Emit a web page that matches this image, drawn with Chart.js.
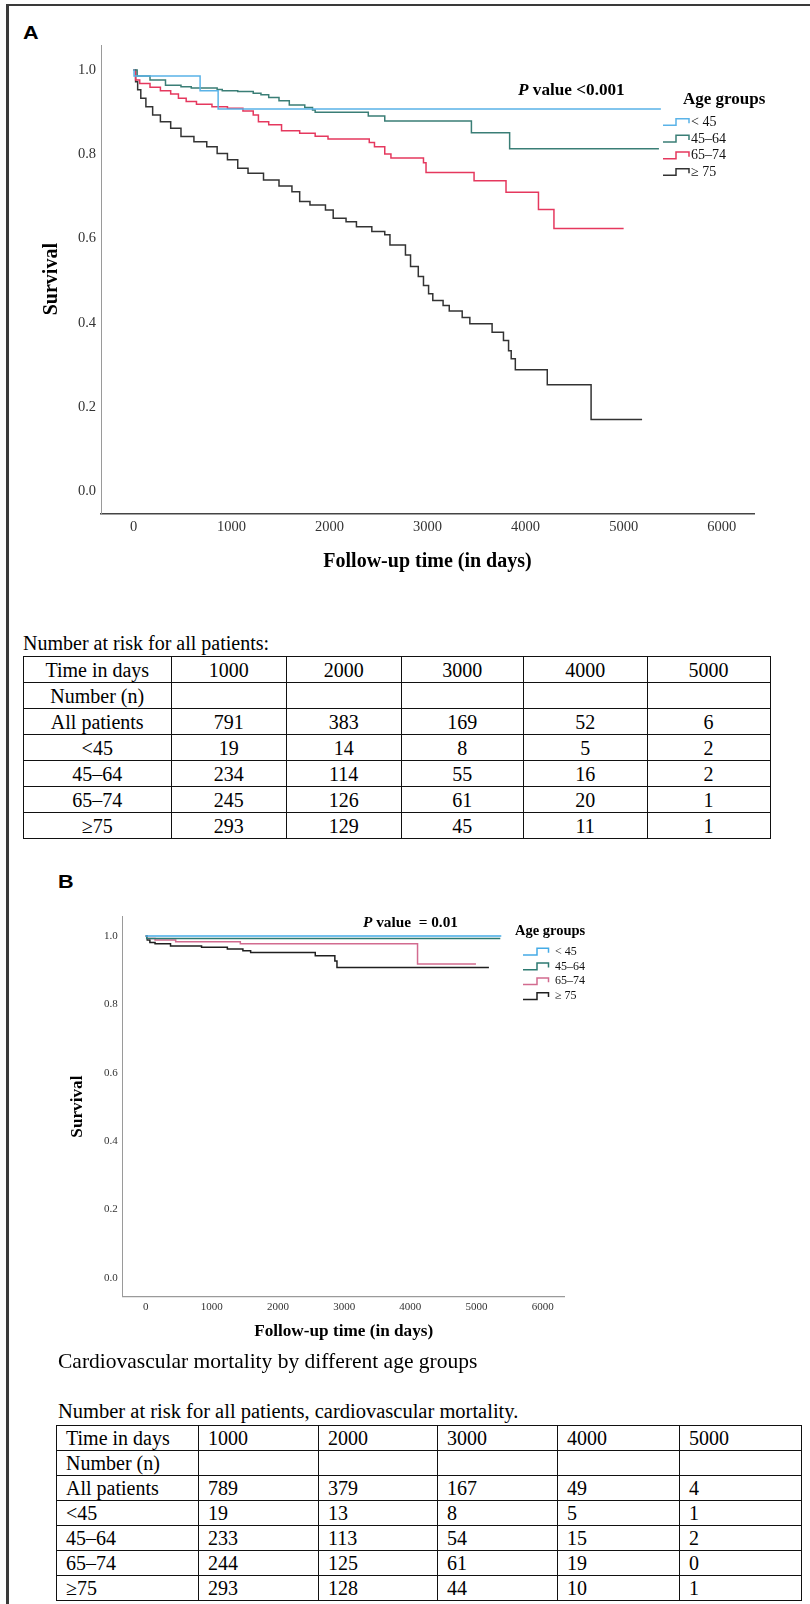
<!DOCTYPE html>
<html><head><meta charset="utf-8">
<script src="https://cdn.jsdelivr.net/npm/chart.js@4.4.0/dist/chart.umd.min.js"></script>
<style>
html,body{margin:0;padding:0;background:#fff;}
body{width:810px;height:1604px;position:relative;overflow:hidden;font-family:"Liberation Serif","Times New Roman",serif;color:#000;}
.frame{position:absolute;left:6px;top:4px;width:820px;height:1620px;border-left:3px solid #3a3a3a;border-top:2px solid #3a3a3a;}
.wrap{position:absolute;left:0;width:810px;}
.panel{position:absolute;font-family:"Liberation Sans",Arial,sans-serif;font-weight:bold;font-size:18px;line-height:18px;}
.panel span{display:inline-block;transform:scaleX(1.2);transform-origin:left center;}
.cap{position:absolute;white-space:nowrap;font-family:"Liberation Serif","Times New Roman",serif;}
table{position:absolute;border-collapse:collapse;table-layout:fixed;font-family:"Liberation Serif","Times New Roman",serif;}
td{border:1px solid #111;padding:0;vertical-align:top;white-space:nowrap;overflow:visible;}
#tA td{text-align:center;font-size:20px;}
#tA td span{display:inline-block;line-height:20px;margin-top:3px;}
#tB td{text-align:left;font-size:20px;padding-left:9px;}
#tB td span{display:inline-block;line-height:20px;margin-top:2px;}
tr{height:24px;}
</style>
</head>
<body>
<div class="frame"></div>
<div class="panel" style="left:23px;top:24px;"><span>A</span></div>
<div class="wrap" style="top:0;height:600px;"><canvas id="cA"></canvas></div>
<div class="cap" style="left:23px;top:633px;font-size:20px;line-height:20px;">Number at risk for all patients:</div>
<table id="tA" style="left:23px;top:656px;"></table>
<div class="panel" style="left:58px;top:873px;"><span>B</span></div>
<div class="wrap" style="top:850px;height:500px;"><canvas id="cB"></canvas></div>
<div class="cap" style="left:58px;top:1351px;font-size:21.5px;line-height:21.5px;">Cardiovascular mortality by different age groups</div>
<div class="cap" style="left:58px;top:1401px;font-size:20.5px;line-height:20.5px;">Number at risk for all patients, cardiovascular mortality.</div>
<table id="tB" style="left:56px;top:1425px;"></table>
<script>
// ---------- data ----------
const xTicks = [0, 1000, 2000, 3000, 4000, 5000, 6000];
const xTickLabels = ['0', '1000', '2000', '3000', '4000', '5000', '6000'];
const yTicks = [0, 0.2, 0.4, 0.6, 0.8, 1.0];
const yTickLabels = ['0.0', '0.2', '0.4', '0.6', '0.8', '1.0'];
const groupLabels = ['< 45', '45–64', '65–74', '≥ 75'];

// Panel A: all-cause survival (days, survival)
const lt45A_t = [0, 5, 679, 863, 5380];
const lt45A_s = [1, 0.986, 0.951, 0.9075, 0.9075];
const g4564A_t = [0, 37, 168, 326, 484, 589, 853, 905, 1063, 1221, 1300, 1379, 1484, 1589, 1747, 1826, 1853, 2395, 2563, 3447, 3837, 5360];
const g4564A_s = [1, 0.986, 0.976, 0.964, 0.960, 0.957, 0.954, 0.951, 0.949, 0.945, 0.941, 0.935, 0.927, 0.917, 0.911, 0.905, 0.900, 0.891, 0.879, 0.851, 0.813, 0.813];
const g6574A_t = [0, 21, 63, 168, 274, 379, 458, 537, 642, 800, 958, 1116, 1221, 1274, 1379, 1510, 1695, 1853, 1984, 2405, 2458, 2563, 2626, 2958, 2984, 3474, 3800, 4131, 4289, 5000];
const g6574A_s = [1, 0.976, 0.968, 0.959, 0.951, 0.943, 0.933, 0.925, 0.919, 0.913, 0.909, 0.903, 0.893, 0.877, 0.870, 0.856, 0.850, 0.843, 0.836, 0.828, 0.818, 0.801, 0.791, 0.780, 0.757, 0.737, 0.710, 0.669, 0.624, 0.624];
const ge75A_t = [0, 21, 42, 74, 126, 195, 274, 379, 484, 616, 747, 853, 958, 1063, 1168, 1326, 1484, 1616, 1695, 1800, 1958, 2037, 2168, 2274, 2431, 2563, 2616, 2774, 2826, 2905, 2958, 3010, 3053, 3158, 3221, 3353, 3431, 3658, 3774, 3826, 3853, 3895, 4221, 4668, 5188];
const ge75A_s = [1, 0.972, 0.953, 0.933, 0.913, 0.893, 0.877, 0.862, 0.842, 0.830, 0.818, 0.802, 0.787, 0.767, 0.755, 0.739, 0.725, 0.711, 0.688, 0.680, 0.668, 0.648, 0.640, 0.628, 0.617, 0.609, 0.585, 0.561, 0.534, 0.510, 0.489, 0.469, 0.453, 0.441, 0.428, 0.413, 0.398, 0.378, 0.358, 0.334, 0.315, 0.289, 0.253, 0.171, 0.171];

// Panel B: cardiovascular mortality
const lt45B_t = [0, 5375];
const lt45B_s = [1, 1];
const g4564B_t = [0, 15, 5360];
const g4564B_s = [1, 0.993, 0.993];
const g6574B_t = [0, 23, 141, 453, 1430, 4109, 4992];
const g6574B_s = [1, 0.993, 0.988, 0.983, 0.977, 0.918, 0.918];
const ge75B_t = [0, 23, 63, 141, 375, 844, 1234, 1469, 1586, 2563, 2859, 2891, 5188];
const ge75B_s = [1, 0.988, 0.981, 0.977, 0.971, 0.967, 0.962, 0.957, 0.952, 0.942, 0.927, 0.908, 0.908];

// Number-at-risk tables
const riskTimes = [1000, 2000, 3000, 4000, 5000];
const riskRowLabels = ['All patients', '<45', '45–64', '65–74', '≥75'];
const riskA_all = [791, 383, 169, 52, 6];
const riskA_lt45 = [19, 14, 8, 5, 2];
const riskA_4564 = [234, 114, 55, 16, 2];
const riskA_6574 = [245, 126, 61, 20, 1];
const riskA_ge75 = [293, 129, 45, 11, 1];
const riskB_all = [789, 379, 167, 49, 4];
const riskB_lt45 = [19, 13, 8, 5, 1];
const riskB_4564 = [233, 113, 54, 15, 2];
const riskB_6574 = [244, 125, 61, 19, 0];
const riskB_ge75 = [293, 128, 44, 10, 1];

// ---------- styles ----------
const colorsA = ['#5ab3e8', '#3a7e76', '#e5385e', '#333333'];
const colorsB = ['#45abe6', '#2d7a71', '#d26b8f', '#1f1f1f'];
const SERIF = '"Liberation Serif", "Times New Roman", serif';

function pts(t, s) { return t.map((x, i) => ({ x: x, y: s[i] })); }

const kmDecor = {
  id: 'kmDecor',
  afterDraw(chart, args, o) {
    const ctx = chart.ctx;
    ctx.save();
    ctx.fillStyle = '#000';
    ctx.textBaseline = 'middle';
    ctx.textAlign = 'left';
    ctx.font = 'italic bold ' + o.pSize + 'px ' + SERIF;
    ctx.fillText('P', o.pX, o.pY);
    const w = ctx.measureText('P').width;
    ctx.font = 'bold ' + o.pSize + 'px ' + SERIF;
    ctx.fillText(o.pText, o.pX + w, o.pY);
    ctx.font = 'bold ' + o.tSize + 'px ' + SERIF;
    ctx.fillText('Age groups', o.tX, o.tY);
    chart.data.datasets.forEach((ds, i) => {
      const c = o.y0 + i * o.step;
      ctx.strokeStyle = ds.borderColor;
      ctx.lineWidth = 1.5;
      ctx.beginPath();
      ctx.moveTo(o.ix0, c + o.low);
      ctx.lineTo(o.ixm, c + o.low);
      ctx.lineTo(o.ixm, c + o.high);
      ctx.lineTo(o.ix1, c + o.high);
      ctx.lineTo(o.ix1, c + o.end);
      ctx.stroke();
      ctx.fillStyle = '#111';
      ctx.font = o.lSize + 'px ' + SERIF;
      ctx.fillText(ds.label, o.lx, c);
    });
    ctx.restore();
  }
};

function makeChart(id, series, colors, g) {
  const datasets = series.map((s, i) => ({
    label: groupLabels[i],
    data: pts(s[0], s[1]),
    borderColor: colors[i],
    backgroundColor: colors[i],
    borderWidth: 1.5,
    pointRadius: 0,
    stepped: true,
    fill: false,
    tension: 0
  }));
  return new Chart(document.getElementById(id), {
    type: 'line',
    data: { datasets: datasets },
    plugins: [kmDecor],
    options: {
      responsive: true,
      maintainAspectRatio: false,
      animation: false,
      events: [],
      layout: { padding: g.padding },
      plugins: { legend: { display: false }, tooltip: { enabled: false }, kmDecor: g.decor },
      scales: {
        x: {
          type: 'linear', min: g.xmin, max: g.xmax,
          afterBuildTicks: s => { s.ticks = xTicks.map(v => ({ value: v })); },
          afterFit: s => { s.height = g.xH; },
          grid: { display: false, drawTicks: false },
          border: { display: true, color: g.xBorder, width: g.xBW },
          ticks: { autoSkip: false, maxRotation: 0, padding: g.xPad, color: '#333', font: { family: SERIF, size: g.tick }, callback: (v, i) => xTickLabels[i] },
          title: { display: true, text: 'Follow-up time (in days)', color: '#000', padding: 0, font: { family: SERIF, size: g.title, weight: 'bold' } }
        },
        y: {
          type: 'linear', min: g.ymin, max: g.ymax,
          afterBuildTicks: s => { s.ticks = yTicks.map(v => ({ value: v })); },
          afterFit: s => { s.width = g.yW; },
          grid: { display: false, drawTicks: false },
          border: { display: true, color: g.yBorder, width: 1 },
          ticks: { autoSkip: false, padding: 5, color: '#333', font: { family: SERIF, size: g.tick }, callback: (v, i) => yTickLabels[i] },
          title: { display: true, text: 'Survival', color: '#000', padding: 0, font: { family: SERIF, size: g.ytitle, weight: 'bold' } }
        }
      }
    }
  });
}

makeChart('cA', [[lt45A_t, lt45A_s], [g4564A_t, g4564A_s], [g6574A_t, g6574A_s], [ge75A_t, ge75A_s]], colorsA, {
  padding: { left: 39.7, top: 45, right: 56, bottom: 26.3 },
  xmin: -332, xmax: 6330, ymin: -0.0517, ymax: 1.0593,
  xH: 60.4, yW: 61.3, xPad: 5.3, tick: 14.5, title: 20, ytitle: 20,
  xBorder: '#444', xBW: 1.5, yBorder: '#9a9a9a',
  decor: { pSize: 17.2, pText: ' value <0.001', pX: 518, pY: 91,
    tSize: 17, tX: 683, tY: 99.3,
    y0: 122.3, step: 16.67, ix0: 663, ixm: 676, ix1: 689, low: 3, high: -3.6, end: 1, lSize: 14, lx: 691 }
});

makeChart('cB', [[lt45B_t, lt45B_s], [g4564B_t, g4564B_s], [g6574B_t, g6574B_s], [ge75B_t, ge75B_s]], colorsB, {
  padding: { left: 67.3, top: 66.7, right: 245.4, bottom: 8 },
  xmin: -348, xmax: 6332, ymin: -0.055, ymax: 1.0565,
  xH: 45.5, yW: 55.4, xPad: 3.6, tick: 11, title: 17.2, ytitle: 17.2,
  xBorder: '#9a9a9a', xBW: 1.2, yBorder: '#9a9a9a',
  decor: { pSize: 15.3, pText: ' value  = 0.01', pX: 363, pY: 73.3,
    tSize: 14.5, tX: 515, tY: 81.7,
    y0: 101.7, step: 14.8, ix0: 523, ixm: 537, ix1: 548.5, low: 3.3, high: -3.4, end: 1, lSize: 12, lx: 555 }
});

// ---------- tables ----------
function buildTable(id, widths, rows) {
  const t = document.getElementById(id);
  const cg = document.createElement('colgroup');
  widths.forEach(w => { const c = document.createElement('col'); c.style.width = w + 'px'; cg.appendChild(c); });
  t.appendChild(cg);
  t.style.width = widths.reduce((a, b) => a + b, 0) + 'px';
  rows.forEach(r => {
    const tr = document.createElement('tr');
    r.forEach(v => {
      const td = document.createElement('td');
      const sp = document.createElement('span');
      sp.textContent = v;
      td.appendChild(sp);
      tr.appendChild(td);
    });
    t.appendChild(tr);
  });
}
function riskRows(data) {
  const rows = [['Time in days'].concat(riskTimes.map(String)), ['Number (n)', '', '', '', '', '']];
  data.forEach((d, i) => rows.push([riskRowLabels[i]].concat(d.map(String))));
  return rows;
}
buildTable('tA', [147.5, 115.5, 114.5, 122.5, 123.5, 123], riskRows([riskA_all, riskA_lt45, riskA_4564, riskA_6574, riskA_ge75]));
buildTable('tB', [142, 120, 119, 120, 122, 122], riskRows([riskB_all, riskB_lt45, riskB_4564, riskB_6574, riskB_ge75]));
</script>
</body></html>
